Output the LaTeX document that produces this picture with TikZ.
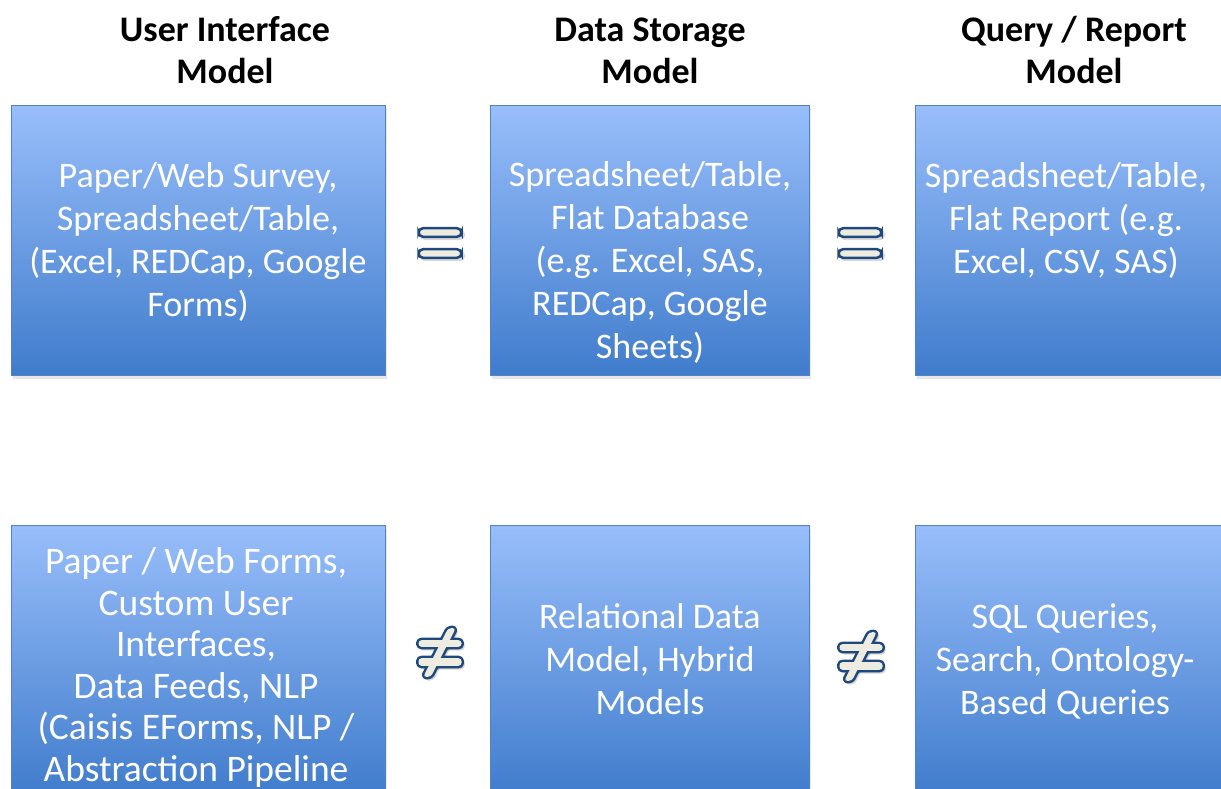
\documentclass[tikz,border=0pt]{standalone}
\usepackage{fontspec}
\setmainfont{Carlito}
\usetikzlibrary{shadows}
\definecolor{boxtop}{RGB}{152,190,250}
\definecolor{boxbot}{RGB}{64,124,204}
\definecolor{boxedge}{RGB}{84,128,196}
\definecolor{signfill}{RGB}{238,236,225}
\definecolor{signedge}{RGB}{31,73,125}

\begin{document}
\begin{tikzpicture}[x=1pt,y=-1pt,
  panel/.style={draw=boxedge, line width=1pt, top color=boxtop, bottom color=boxbot,
    minimum width=#1, minimum height=270pt, anchor=north west, inner sep=0pt,
    drop shadow={shadow xshift=1pt, shadow yshift=-3pt, opacity=0.18}},
  % multi-line texts are placed by the baseline of their last line
  heading/.style={font=\fontsize{36}{42}\selectfont\bfseries, align=center,
    anchor=base, inner sep=0pt},
  body/.style={font=\fontsize{36}{43}\selectfont, text=white, align=center,
    anchor=base, inner sep=0pt},
  tightbody/.style={body, font=\fontsize{37.5}{41.5}\selectfont},
  signline/.style={draw=signedge, line width=2.5pt, fill=signfill, rounded corners=4.5pt},
  eqsign/.pic={
    \foreach \yy in {-10.5,10.5}
      \fill[black, opacity=0.15, rounded corners=4.5pt] (-20,\yy-3) rectangle (25,\yy+7.5);
    \foreach \yy in {-10.5,10.5}
      \path[signline] (-21.5,\yy-4.3) rectangle (21.5,\yy+4.3);
  },
  neqsign/.pic={
    % soft shadow of the whole sign
    \begin{scope}[shift={(2,2.5)}, black, opacity=0.15, line width=2.5pt, rounded corners=3pt]
      \filldraw (-21.5,-11.8) rectangle (21.5,-5.2);
      \filldraw (-21.5,6.2) rectangle (21.5,13.8);
      \filldraw (8.2,-23.8) -- (15.8,-23.8) -- (-9.2,24.8) -- (-16.8,24.8) -- cycle;
    \end{scope}
    % outline of the union
    \begin{scope}[signedge, line width=5pt, line join=round, rounded corners=3pt]
      \filldraw (-21.5,-11.8) rectangle (21.5,-5.2);
      \filldraw (-21.5,6.2) rectangle (21.5,13.8);
      \filldraw (8.2,-23.8) -- (15.8,-23.8) -- (-9.2,24.8) -- (-16.8,24.8) -- cycle;
    \end{scope}
    % cream interior
    \begin{scope}[signfill, rounded corners=3pt]
      \fill (-21.5,-11.8) rectangle (21.5,-5.2);
      \fill (-21.5,6.2) rectangle (21.5,13.8);
      \fill (8.2,-23.8) -- (15.8,-23.8) -- (-9.2,24.8) -- (-16.8,24.8) -- cycle;
    \end{scope}
  }]

\useasboundingbox (0,0) rectangle (1221,789);
\clip (0,0) rectangle (1221,789);
\fill[white] (0,0) rectangle (1221,789);

% column headings
\node[heading] (hui) at (225,84) {User Interface\\Model};
\node[heading] (hds) at (650,84) {Data Storage\\Model};
\node[heading] (hqr) at (1074,84) {Query / Report\\Model};

% first row: flat models
\node[panel=374pt] (ui1) at (11,105) {};
\node[panel=319pt] (ds1) at (490,105) {};
\node[panel=319pt] (qr1) at (915,105) {};

% second row: relational models
\node[panel=374pt] (ui2) at (11,525) {};
\node[panel=319pt] (ds2) at (490,525) {};
\node[panel=319pt] (qr2) at (915,525) {};

% panel texts
\node[body] (tui1) at (198,316) {Paper/Web Survey,\\Spreadsheet/Table,\\(Excel, REDCap, Google\\Forms)};
\node[body] (tds1) at (650,358) {Spreadsheet/Table,\\Flat Database\\(e.g. Excel, SAS,\\REDCap, Google\\Sheets)};
\node[body] (tqr1) at (1066,273) {Spreadsheet/Table,\\Flat Report (e.g.\\Excel, CSV, SAS)};

\node[tightbody] (tui2) at (196,781) {Paper / Web Forms,\\Custom User\\Interfaces,\\Data Feeds, NLP\\(Caisis EForms, NLP /\\Abstraction Pipeline};
\node[body] (tds2) at (650,714) {Relational Data\\Model, Hybrid\\Models};
\node[body] (tqr2) at (1065,714) {SQL Queries,\\Search, Ontology-\\Based Queries};

% relation signs between the columns
\pic at (440,243) {eqsign};
\pic at (860,243) {eqsign};
\pic at (440,652) {neqsign};
\pic at (861,656) {neqsign};
\end{tikzpicture}
\end{document}
